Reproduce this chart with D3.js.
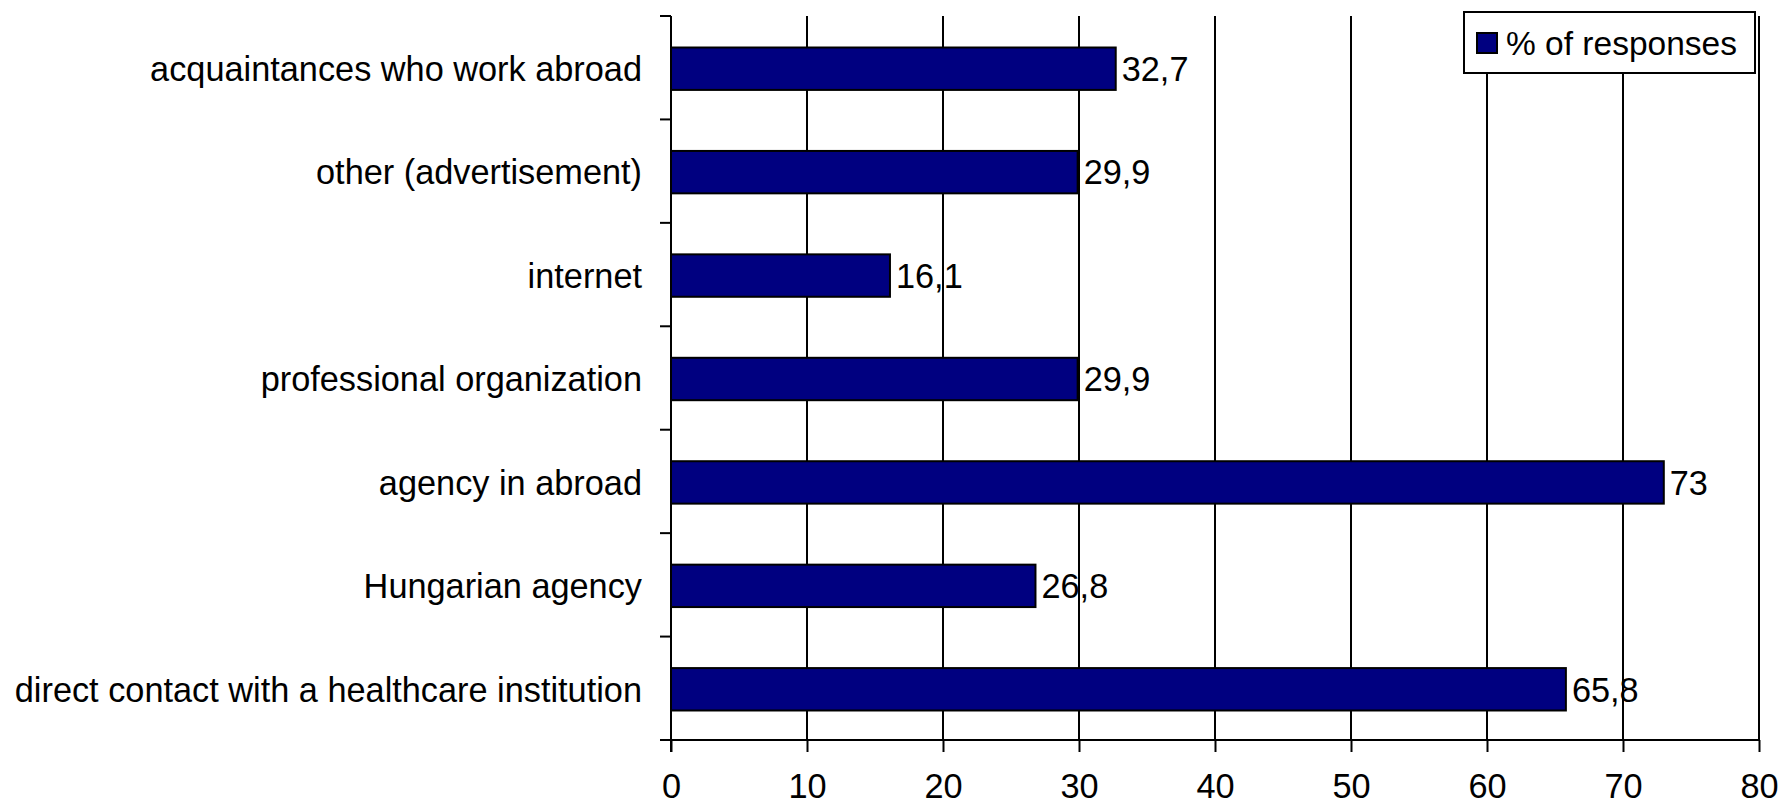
<!DOCTYPE html>
<html>
<head>
<meta charset="utf-8">
<script src="https://cdn.jsdelivr.net/npm/d3@7"></script>
<style>
  html, body { margin: 0; padding: 0; background: #fff; }
  svg { display: block; }
  text { font-family: "Liberation Sans", Arial, sans-serif; fill: #000; }
</style>
</head>
<body>
<svg id="chart" width="1779" height="805"></svg>
<script>
// Sources of job information, top to bottom
const categories = [
  "acquaintances who work abroad",
  "other (advertisement)",
  "internet",
  "professional organization",
  "agency in abroad",
  "Hungarian agency",
  "direct contact with a healthcare institution"
];
const values = [32.7, 29.9, 16.1, 29.9, 73, 26.8, 65.8];
const xTicks = [0, 10, 20, 30, 40, 50, 60, 70, 80];
const seriesName = "% of responses";

const W = 1779, H = 805;
const plot = { left: 671, right: 1759, top: 16, bottom: 740 };
const fontSize = 34.3;
const barColor = "#000080";

const svg = d3.select("#chart");

const x = d3.scaleLinear().domain([0, 80]).range([plot.left, plot.right]);
const y = d3.scaleBand().domain(categories).range([plot.top, plot.bottom]).padding(0);
const barH = y.bandwidth() * 0.41;

// vertical gridlines
svg.append("g")
  .selectAll("line")
  .data(xTicks.filter(t => t > 0))
  .join("line")
  .attr("x1", d => x(d)).attr("x2", d => x(d))
  .attr("y1", plot.top).attr("y2", plot.bottom)
  .attr("stroke", "#000").attr("stroke-width", 2);

// bars
svg.append("g")
  .selectAll("rect")
  .data(categories)
  .join("rect")
  .attr("x", x(0))
  .attr("y", d => y(d) + (y.bandwidth() - barH) / 2 + 1)
  .attr("width", (d, i) => x(values[i]) - x(0))
  .attr("height", barH)
  .attr("fill", barColor)
  .attr("stroke", "#000")
  .attr("stroke-width", 2);

// value labels
svg.append("g")
  .selectAll("text")
  .data(categories)
  .join("text")
  .attr("x", (d, i) => x(values[i]) + 6)
  .attr("y", d => y(d) + y.bandwidth() / 2 + 1)
  .attr("dy", "0.36em")
  .attr("font-size", fontSize)
  .text((d, i) => String(values[i]).replace(".", ","));

// x axis
const xAxis = d3.axisBottom(x).tickValues(xTicks).tickSize(12).tickPadding(22);
const gx = svg.append("g").attr("transform", `translate(0,${plot.bottom})`).call(xAxis);
gx.select(".domain").remove();
gx.append("line")
  .attr("x1", plot.left - 11).attr("x2", plot.right)
  .attr("y1", 0).attr("y2", 0)
  .attr("stroke", "#000").attr("stroke-width", 2);
gx.selectAll(".tick line").attr("stroke", "#000").attr("stroke-width", 2);
gx.selectAll(".tick text")
  .attr("font-size", fontSize)
  .attr("font-family", "Liberation Sans, Arial, sans-serif")
  .attr("fill", "#000");

// y axis: boundary ticks between categories
const gy = svg.append("g");
gy.append("line")
  .attr("x1", plot.left).attr("x2", plot.left)
  .attr("y1", plot.top).attr("y2", plot.bottom + 12)
  .attr("stroke", "#000").attr("stroke-width", 2);
const bounds = categories.map(c => y(c));
gy.selectAll("line.tk")
  .data(bounds)
  .join("line")
  .attr("class", "tk")
  .attr("x1", plot.left - 11).attr("x2", plot.left)
  .attr("y1", d => d).attr("y2", d => d)
  .attr("stroke", "#000").attr("stroke-width", 2);
gy.selectAll("text")
  .data(categories)
  .join("text")
  .attr("x", plot.left - 29)
  .attr("y", d => y(d) + y.bandwidth() / 2 + 1)
  .attr("dy", "0.36em")
  .attr("text-anchor", "end")
  .attr("font-size", fontSize)
  .text(d => d);

// legend
const lg = svg.append("g");
lg.append("rect")
  .attr("x", 1464).attr("y", 12).attr("width", 291).attr("height", 61)
  .attr("fill", "#fff").attr("stroke", "#000").attr("stroke-width", 2);
lg.append("rect")
  .attr("x", 1477).attr("y", 33).attr("width", 20).attr("height", 20)
  .attr("fill", barColor).attr("stroke", "#000").attr("stroke-width", 2);
lg.append("text")
  .attr("x", 1506).attr("y", 43)
  .attr("dy", "0.36em")
  .attr("font-size", 33.5)
  .text(seriesName);
</script>
</body>
</html>
